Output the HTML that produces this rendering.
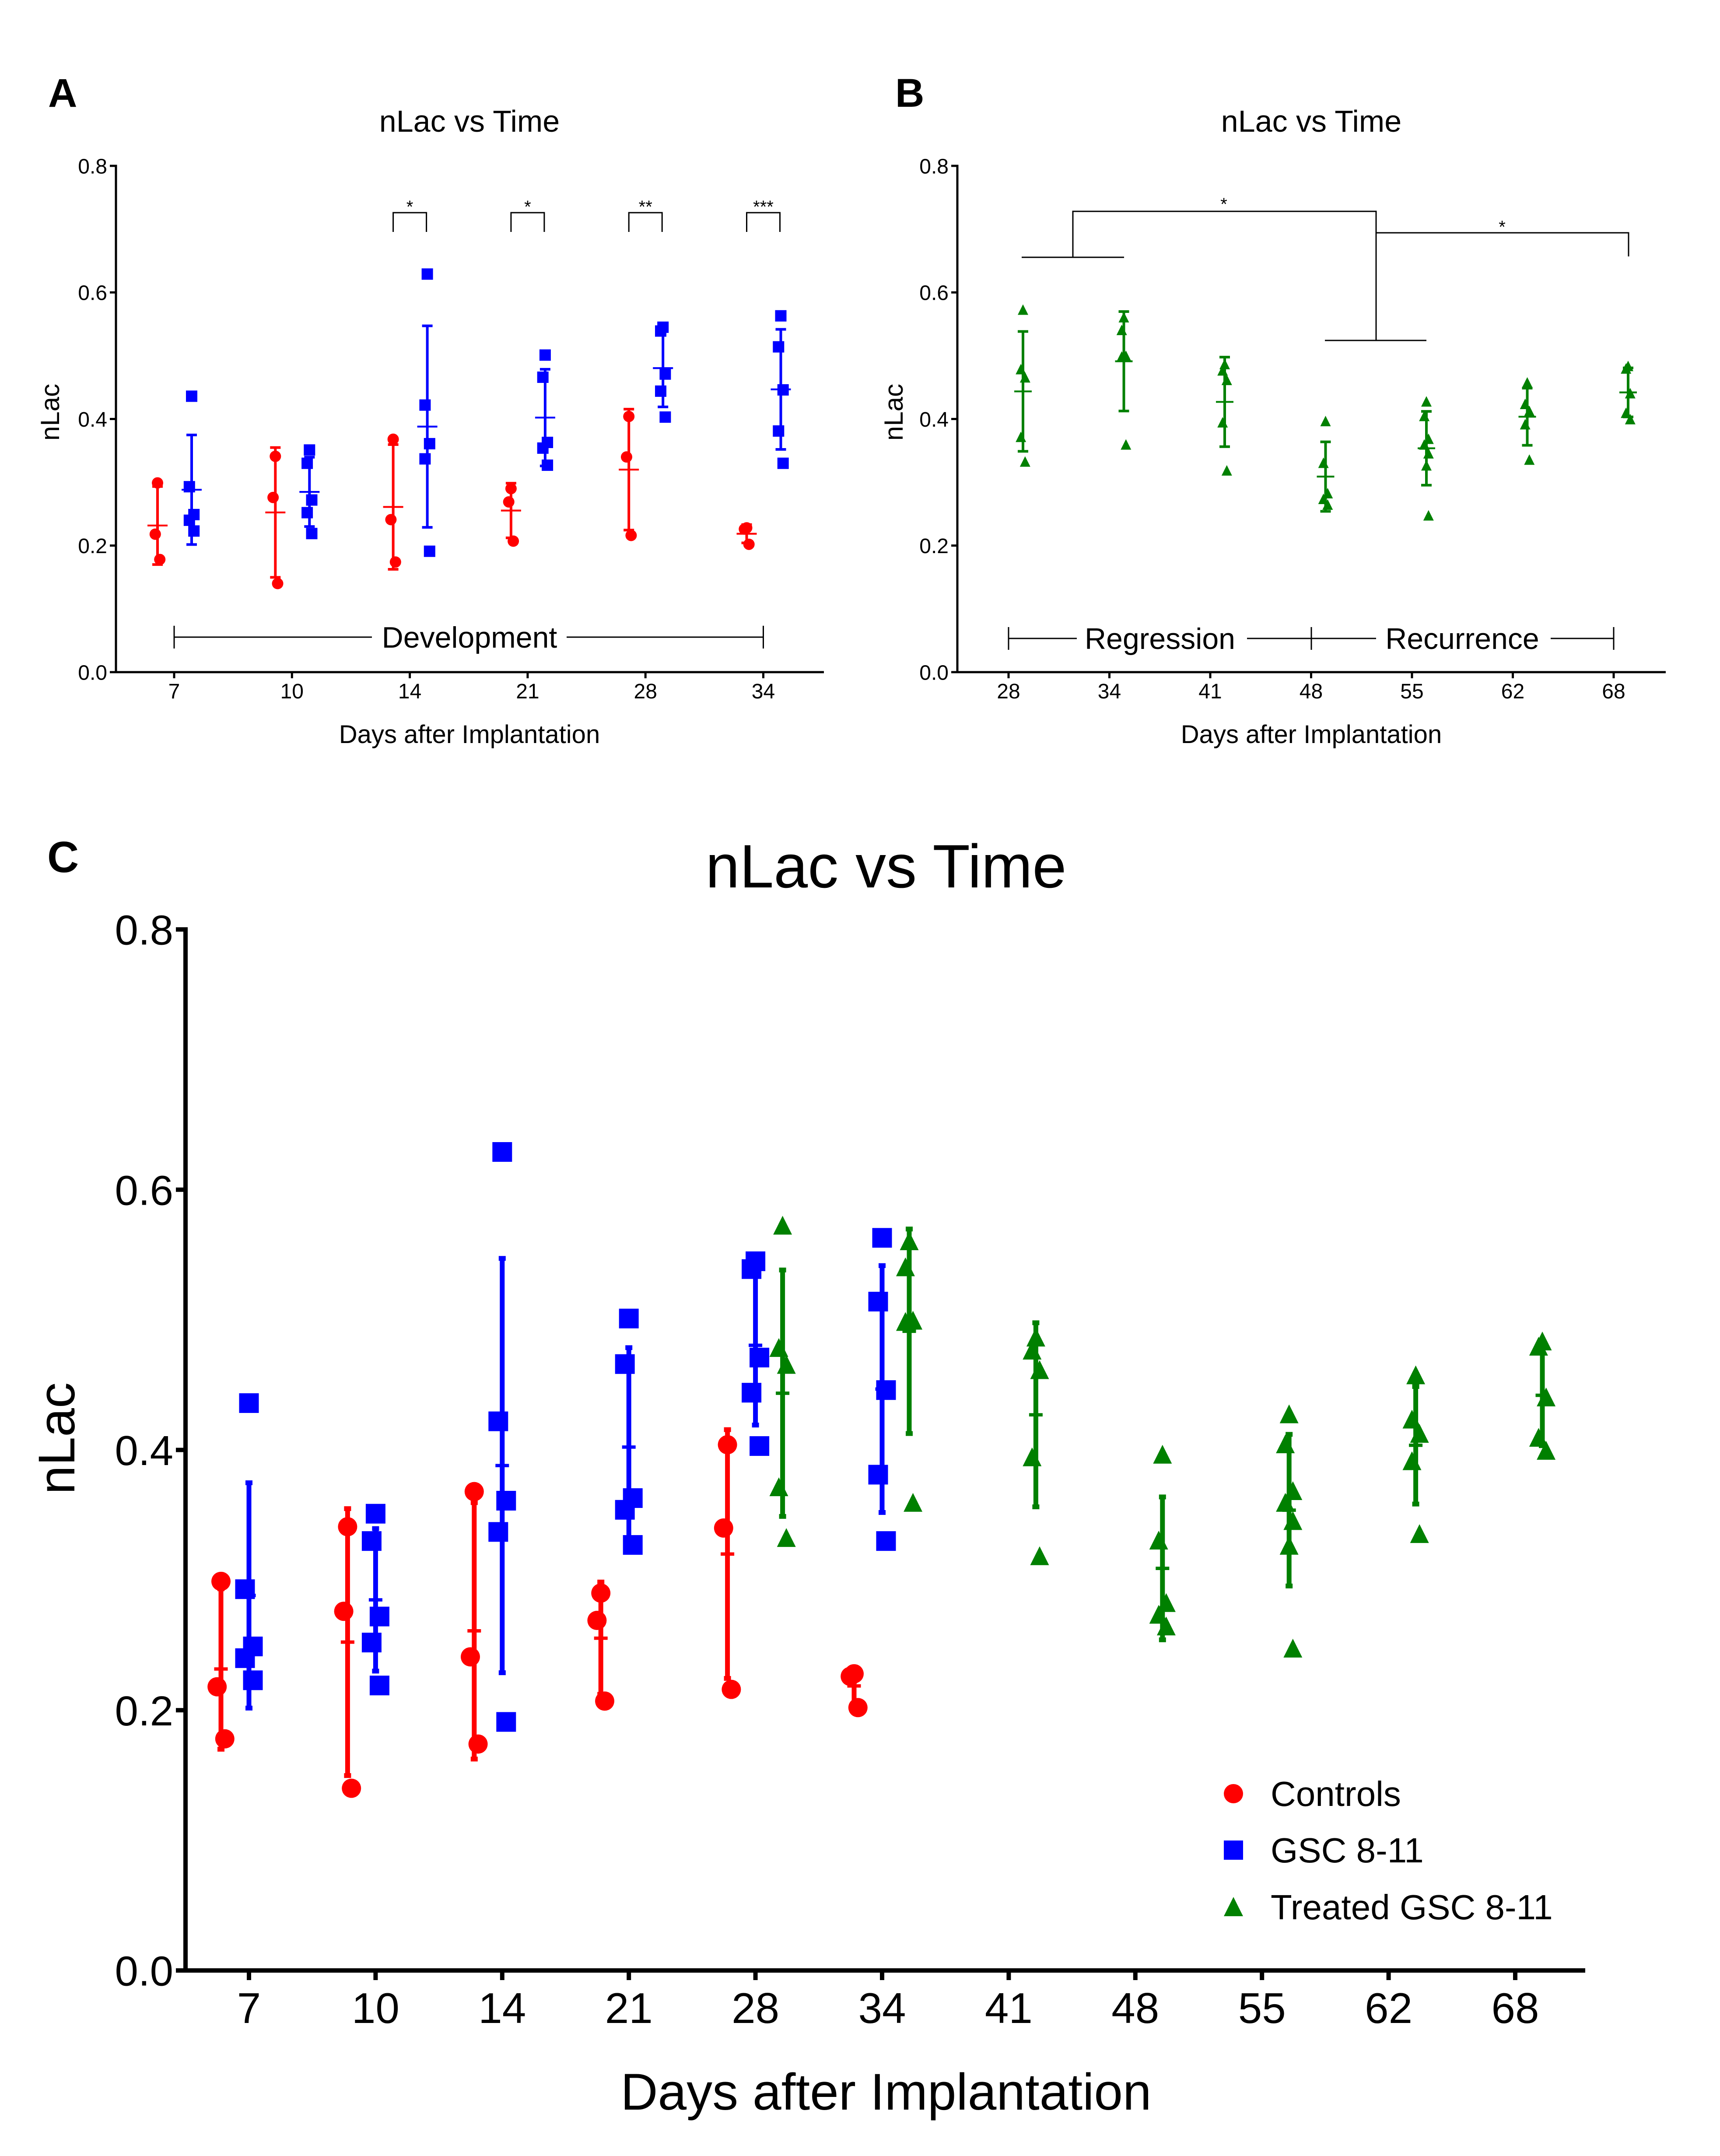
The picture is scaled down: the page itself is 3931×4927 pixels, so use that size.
<!DOCTYPE html>
<html><head><meta charset="utf-8"><style>
html,body{margin:0;padding:0;background:#fff;}
svg{display:block;font-family:"Liberation Sans",Arial,sans-serif;}
</style></head><body>
<svg id="fig" xmlns="http://www.w3.org/2000/svg" width="3931" height="4927" viewBox="0 0 3931 4927">
<rect width="3931" height="4927" fill="#fff"/>
</svg>
<script>
// ---------- data ----------
const daysA = ["7","10","14","21","28","34"];
const daysB = ["28","34","41","48","55","62","68"];
const daysC = ["7","10","14","21","28","34","41","48","55","62","68"];
const yTicks = [0.0,0.2,0.4,0.6,0.8];
const yTickLabels = ["0.0","0.2","0.4","0.6","0.8"];
const controls = [
  [0.299,0.218,0.178],
  [0.341,0.276,0.140],
  [0.368,0.241,0.174],
  [0.290,0.269,0.207],
  [0.404,0.340,0.216],
  [0.228,0.226,0.202]
];
const gsc = [
  [0.436,0.293,0.249,0.240,0.223],
  [0.351,0.330,0.272,0.252,0.219],
  [0.629,0.422,0.361,0.337,0.191],
  [0.501,0.466,0.363,0.354,0.327],
  [0.545,0.539,0.471,0.444,0.403],
  [0.563,0.514,0.446,0.381,0.330]
];
const treated = [
  [0.572,0.478,0.465,0.371,0.332],
  [0.560,0.540,0.499,0.498,0.359],
  [0.486,0.476,0.461,0.394,0.318],
  [0.396,0.330,0.282,0.273,0.264],
  [0.427,0.404,0.368,0.359,0.345,0.326,0.247],
  [0.457,0.423,0.412,0.391,0.335],
  [0.483,0.479,0.440,0.409,0.399]
];
const sigLabelsA = ["*","*","**","***"];
const sigLabelsB = ["*","*"];
const legendLabels = ["Controls","GSC 8-11","Treated GSC 8-11"];

const RED="#ff0000", BLUE="#0000ff", GREEN="#008000";
const NS="http://www.w3.org/2000/svg";
const svg=document.getElementById('fig');
function el(tag,attrs,parent,text){
  const e=document.createElementNS(NS,tag);
  for(const k in attrs) e.setAttribute(k,attrs[k]);
  if(text!==undefined) e.textContent=text;
  (parent||svg).appendChild(e);
  return e;
}
function stats(a){
  const m=a.reduce((s,v)=>s+v,0)/a.length;
  const sd=Math.sqrt(a.reduce((s,v)=>s+(v-m)*(v-m),0)/(a.length-1));
  return [m,sd];
}
const jit=[0,-1,1,-1,1,0,1];

function makePanel(cfg){
  const g=el('g',{});
  
  
  const yS=v=>cfg.y0+(cfg.y8-cfg.y0)*v/0.8;
  const xS=i=>cfg.xt0+cfg.dx*i;
  const ax=el('path',{d:`M${cfg.left} ${cfg.y8-cfg.aw/2}V${cfg.y0}H${cfg.right}`,stroke:'#000','stroke-width':cfg.aw,fill:'none'},g);
  
  
  yTicks.forEach((t,i)=>{
    el('line',{x1:cfg.left-cfg.tl,x2:cfg.left,y1:yS(t),y2:yS(t),stroke:'#000','stroke-width':cfg.aw},g);
    const tx=el('text',{x:cfg.left-cfg.tl-6,y:yS(t)+cfg.tf*0.36,'font-size':cfg.tf,'text-anchor':'end'},g,yTickLabels[i]);
    
    
  });
  cfg.days.forEach((d,i)=>{
    el('line',{x1:xS(i),x2:xS(i),y1:cfg.y0,y2:cfg.y0+cfg.tl,stroke:'#000','stroke-width':cfg.aw},g);
    const tx=el('text',{x:xS(i),y:cfg.xlb,'font-size':cfg.xtf||cfg.tf,'text-anchor':'middle'},g,d);
    
    
  });
  const t=el('text',{x:cfg.tcx,y:cfg.tby,'font-size':cfg.titf,'text-anchor':'middle'},g,'nLac vs Time');
  
  
  const xl=el('text',{x:cfg.tcx,y:cfg.xly,'font-size':cfg.xlf,'text-anchor':'middle'},g,'Days after Implantation');
  
  
  const yl=el('text',{x:0,y:0,'font-size':cfg.ylf,'text-anchor':'middle',transform:`translate(${cfg.ylx},${cfg.yly}) rotate(-90)`},g,'nLac');
  
  
  const pl=el('text',{x:cfg.plx,y:cfg.ply,'font-size':cfg.plf,'font-weight':'bold'},g,cfg.letter);
  
  
  return {g,xS,yS};
}

function drawSeries(P,series,dayIdx,off,color,shape,ms,cfg,nm){
  series.forEach((vals,k)=>{
    const i=dayIdx[k];
    const cx=P.xS(i)+off;
    const [m,sd]=stats(vals);
    const g=el('g',{},P.g);
    
    
    el('line',{x1:cx,x2:cx,y1:P.yS(m-sd),y2:P.yS(m+sd),stroke:color,'stroke-width':cfg.ew},g);
    [m-sd,m+sd].forEach(v=>el('line',{x1:cx-cfg.cap/2,x2:cx+cfg.cap/2,y1:P.yS(v),y2:P.yS(v),stroke:color,'stroke-width':cfg.ew},g));
    el('line',{x1:cx-cfg.mw/2,x2:cx+cfg.mw/2,y1:P.yS(m),y2:P.yS(m),stroke:color,'stroke-width':cfg.ew*0.7},g);
    vals.forEach((v,j)=>{
      const x=cx+jit[j%jit.length]*ms*0.2, y=P.yS(v);
      let mk;
      if(shape==='c') mk=el('circle',{cx:x,cy:y,r:ms/2,fill:color},g);
      else if(shape==='s') mk=el('rect',{x:x-ms/2,y:y-ms/2,width:ms,height:ms,fill:color},g);
      else mk=el('polygon',{points:`${x},${y-ms*0.55} ${x-ms/2},${y+ms*0.45} ${x+ms/2},${y+ms*0.45}`,fill:color},g);
      
      
    });
  });
}

// ---------- Panel A ----------
const cfgA={name:'panel-a',letter:'A',days:daysA,left:265,right:1883,y0:1536,y8:379,xt0:398,dx:269.3,aw:5,tl:14,tf:48,xlb:1596,
 tcx:1073,tby:301,titf:70,xly:1698,xlf:58,ylx:135,yly:942,ylf:60,plx:110,ply:244,plf:92,ew:6,cap:24,mw:46};
const A=makePanel(cfgA);
drawSeries(A,controls,[0,1,2,3,4,5],-38,RED,'c',26,cfgA,'controls');
drawSeries(A,gsc,[0,1,2,3,4,5],40,BLUE,'s',26,cfgA,'gsc');
[2,3,4,5].forEach((i,k)=>{
  const x1=A.xS(i)-38,x2=A.xS(i)+38;
  const b=el('path',{d:`M${x1} 530V486H${x2}V530`,stroke:'#000','stroke-width':3,fill:'none'},A.g);
  
  
  el('text',{x:(x1+x2)/2,y:486,'font-size':40,'text-anchor':'middle'},A.g,sigLabelsA[k]);
});
(function(){
  const y=1456,g=A.g;
  el('path',{d:`M${A.xS(0)} ${y-26}V${y+26}M${A.xS(5)} ${y-26}V${y+26}M${A.xS(0)} ${y}H850M1295 ${y}H${A.xS(5)}`,stroke:'#000','stroke-width':3,fill:'none'},g);
  const t=el('text',{x:1073,y:y+24,'font-size':68,'text-anchor':'middle'},g,'Development');
  
  
})();

// ---------- Panel B ----------
const cfgB={name:'panel-b',letter:'B',days:daysB,left:2188,right:3807,y0:1536,y8:379,xt0:2305,dx:230.5,aw:5,tl:14,tf:48,xlb:1596,
 tcx:2997,tby:301,titf:70,xly:1698,xlf:58,ylx:2063,yly:942,ylf:60,plx:2046,ply:244,plf:92,ew:6,cap:24,mw:40};
const B=makePanel(cfgB);
drawSeries(B,treated,[0,1,2,3,4,5,6],33,GREEN,'t',24,cfgB,'treated');
(function(){
  const g=B.g;
  const p=el('path',{d:'M2335 588H2569M2452 588V483H3145V778M3028 778H3260M3145 532H3722V586',stroke:'#000','stroke-width':3,fill:'none'},g);
  
  
  el('text',{x:2797,y:480,'font-size':40,'text-anchor':'middle'},g,sigLabelsB[0]);
  el('text',{x:3433,y:532,'font-size':40,'text-anchor':'middle'},g,sigLabelsB[1]);
  const y=1459;
  el('path',{d:`M2305 ${y-26}V${y+26}M2997 ${y-26}V${y+26}M3688 ${y-26}V${y+26}M2305 ${y}H2461M2850 ${y}H3145M3544 ${y}H3688`,stroke:'#000','stroke-width':3,fill:'none'},g);
  const t1=el('text',{x:2651,y:y+24,'font-size':68,'text-anchor':'middle'},g,'Regression');
  
  
  const t2=el('text',{x:3342,y:y+24,'font-size':68,'text-anchor':'middle'},g,'Recurrence');
  
  
})();

// ---------- Panel C ----------
const cfgC={name:'panel-c',letter:'C',days:daysC,left:424,right:3623,y0:4503,y8:2124,xt0:569,dx:289.4,aw:10,tl:22,tf:96,xtf:98,xlb:4623,
 tcx:2025,tby:2028,titf:140,xly:4821,xlf:118,ylx:170,yly:3287,ylf:118,plx:108,ply:1993,plf:100,ew:11,cap:16,mw:31};
const C=makePanel(cfgC);
drawSeries(C,controls,[0,1,2,3,4,5],-64,RED,'c',44,cfgC,'controls');
drawSeries(C,gsc,[0,1,2,3,4,5],0,BLUE,'s',45,cfgC,'gsc');
drawSeries(C,treated,[4,5,6,7,8,9,10],62,GREEN,'t',43,cfgC,'treated');
(function(){
  const g=el('g',{},C.g);
  
  
  const rows=[4099,4228,4358], cols=[RED,BLUE,GREEN], shp=['c','s','t'];
  legendLabels.forEach((lab,i)=>{
    const y=rows[i], x=2819;
    if(shp[i]==='c') el('circle',{cx:x,cy:y,r:22,fill:cols[i]},g);
    else if(shp[i]==='s') el('rect',{x:x-22,y:y-22,width:44,height:44,fill:cols[i]},g);
    else el('polygon',{points:`${x},${y-23} ${x-22},${y+21} ${x+22},${y+21}`,fill:cols[i]},g);
    const t=el('text',{x:2904,y:y+28,'font-size':80},g,lab);
    
    
  });
})();
</script>
</body></html>
